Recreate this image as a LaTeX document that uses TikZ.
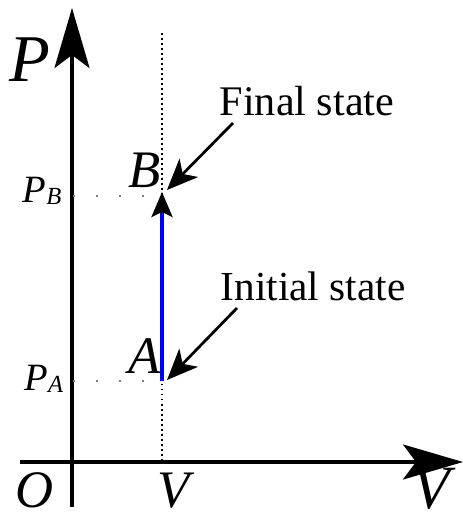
\documentclass[tikz,border=0pt]{standalone}
\usepackage{fontspec}
\setmainfont{Liberation Serif}
\usepackage{tikz}
\usetikzlibrary{arrows.meta}
\newcommand{\sym}[1]{\textit{#1}}
\newcommand{\lev}[2]{\textit{#1}\raisebox{-0.06em}{\fontsize{14}{15}\selectfont\textit{#2}}}
\begin{document}
\begin{tikzpicture}[x=0.02cm,y=0.02cm,inner sep=0pt,
  axis/.style={line width=0.07cm,-{Stealth[length=1.2cm,width=0.7cm,inset=0.26cm]}},
  guide/.style={line width=0.03cm,dotted},
  level/.style={gray,line width=0.05cm,dash pattern=on 0.05cm off 0.41cm},
  note/.style={line width=0.055cm,-{Stealth[length=0.62cm,width=0.52cm,inset=0.17cm]}},
  big/.style={font=\fontsize{38}{40}\selectfont},
  mid/.style={font=\fontsize{30}{32}\selectfont},
  txt/.style={font=\fontsize{24}{26}\selectfont}]
\useasboundingbox (0,0) rectangle (463,522);
% axes
\coordinate (org) at (72,60);
\coordinate (ptop) at (72,514);
\coordinate (pbot) at (72,15);
\coordinate (vleft) at (20,60);
\coordinate (vend) at (463,60);
\draw[axis] (pbot) -- (ptop);
\draw[axis] (vleft) -- (vend);
\node[big] (Plab) at (30,462) {\sym{P}};
\node[big,font=\fontsize{35}{37}\selectfont,anchor=base,text depth=0pt] (Vlab) at (434,13) {\sym{V}};
\node[mid] (Olab) at (35,32) {\sym{O}};
% states on the isochore
\coordinate (vtop) at (162,489);
\coordinate (vfoot) at (162,60);
\coordinate (sA) at (162,141);
\coordinate (sB) at (162,330);
\coordinate (pA) at (73,141);
\coordinate (pB) at (73,326);
\coordinate (bEnd) at (152,326);
\draw[guide] (vtop) -- (vfoot);
\draw[level] (pA) -- (sA);
\draw[level] (pB) -- (bEnd);
\draw[blue,line width=0.075cm,-{Stealth[black,length=0.5cm,width=0.42cm,inset=0.1cm]}] (sA) -- (sB);
\node[mid] (Alab) at (145,166) {\sym{A}};
\node[mid] (Blab) at (145,352) {\sym{B}};
\node[font=\fontsize{22}{24}\selectfont] (PAlab) at (44,143) {\lev{P}{A}};
\node[font=\fontsize{22}{24}\selectfont] (PBlab) at (42,331) {\lev{P}{B}};
\node[mid] (Vtick) at (176,31) {\sym{V}};
% notes
\node[txt] (fin) at (307,421) {Final state};
\node[txt,font=\fontsize{23.5}{26}\selectfont] (ini) at (313,236) {Initial state};
\coordinate (finTail) at (233,399);
\coordinate (finTip) at (167,332);
\coordinate (iniTail) at (237,214);
\coordinate (iniTip) at (167,142);
\draw[note] (finTail) -- (finTip);
\draw[note] (iniTail) -- (iniTip);
\end{tikzpicture}
\end{document}
